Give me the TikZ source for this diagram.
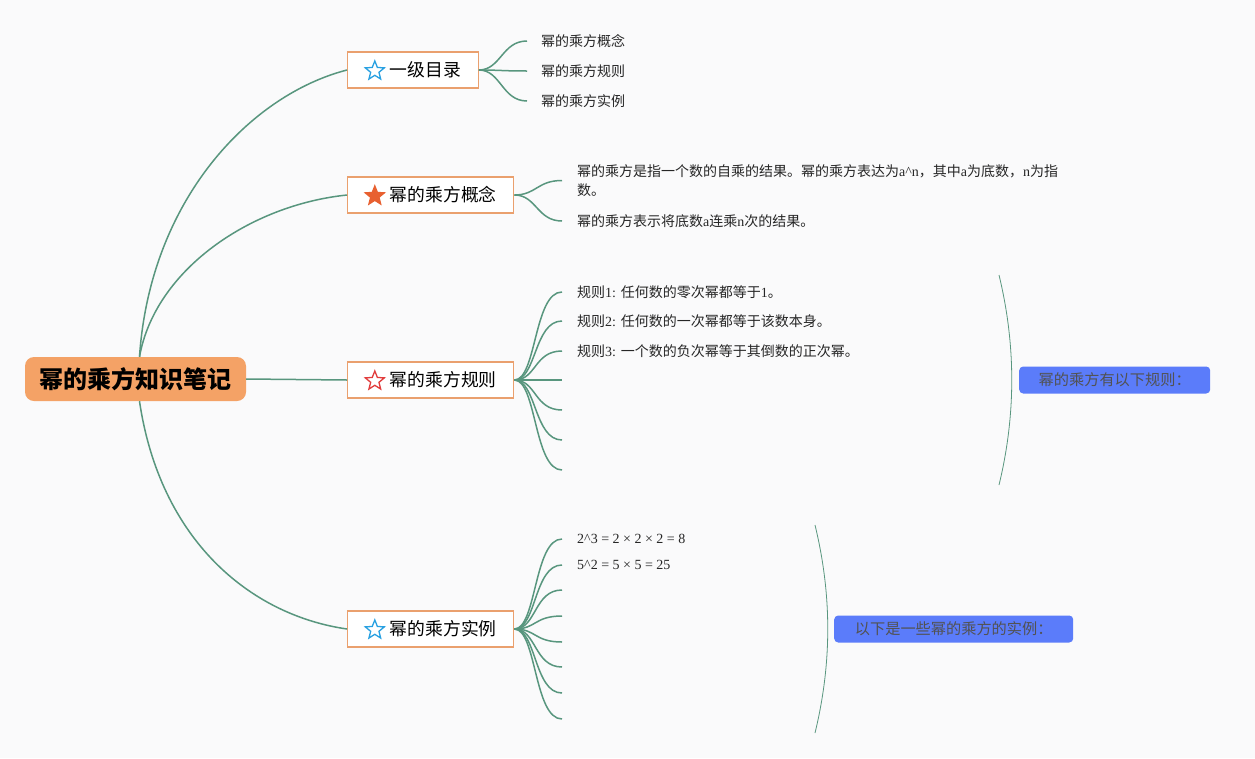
\documentclass[tikz,border=0pt]{standalone}
\usepackage{fontspec}
\setmainfont{Liberation Serif}
\newfontfamily\cjk{Noto Sans CJK SC}
\usepackage{tikz}
\usetikzlibrary{shapes.geometric}
\definecolor{twigc}{RGB}{88,150,126}
\definecolor{boxc}{RGB}{234,160,110}
\definecolor{rootc}{RGB}{244,162,102}
\definecolor{notec}{RGB}{91,124,250}
\definecolor{starblue}{RGB}{40,160,225}
\definecolor{starorange}{RGB}{232,96,48}
\definecolor{starred}{RGB}{225,60,60}
\definecolor{bgc}{RGB}{250,250,251}
\newcommand{\lat}[1]{{\rmfamily #1}}

\begin{document}
\begin{tikzpicture}[x=1pt,y=-1pt,
		twig/.style={draw=twigc, line width=1.5pt},
		root/.style={fill=rootc, rounded corners=9pt, minimum width=221pt, minimum height=44pt, font=\cjk\bfseries\fontsize{24}{26}\selectfont},
		branch/.style={draw=boxc, line width=1.3pt, fill=white, minimum height=36pt, inner xsep=17pt, anchor=west, font=\cjk\fontsize{17.8}{20}\selectfont},
		leaf/.style={anchor=west, inner xsep=15pt, inner ysep=0pt, align=left, text=black!85, font=\cjk\fontsize{14}{19}\selectfont},
		starmark/.style={star, star points=5, star point ratio=2.3, minimum size=20pt, inner sep=0pt, line width=1.3pt, anchor=center},
		note/.style={fill=notec, rounded corners=4pt, minimum width=191pt, minimum height=27pt, anchor=west, text=black!68, font=\cjk\fontsize{15.2}{18}\selectfont}]
			\fill[bgc] (0,0) rectangle (1255,758);
			\useasboundingbox (0,0) rectangle (1255,758);
			% root and branches
			\node[root] (root) at (135.5,379) {幂的乘方知识笔记};
			\node[branch] (b1) at (347,70) {\tikz[baseline=-0.6ex]\node[starmark,draw=starblue]{};\hspace{5pt}一级目录};
			\node[branch] (b2) at (347,195) {\tikz[baseline=-0.6ex]\node[starmark,draw=starorange,fill=starorange]{};\hspace{5pt}幂的乘方概念};
			\node[branch] (b3) at (347,380) {\tikz[baseline=-0.6ex]\node[starmark,draw=starred]{};\hspace{5pt}幂的乘方规则};
			\node[branch] (b4) at (347,629) {\tikz[baseline=-0.6ex]\node[starmark,draw=starblue]{};\hspace{5pt}幂的乘方实例};
			\draw[twig] ([xshift=4pt]root.north) .. controls (150,200) and (250,95) .. (b1.west);
			\draw[twig] ([xshift=4pt]root.north) .. controls (155,270) and (250,205) .. (b2.west);
			\draw[twig] (root.east) -- (b3.west);
			\draw[twig] ([xshift=4pt]root.south) .. controls (160,540) and (250,615) .. (b4.west);
			% leaves of b1
			\node[leaf, inner xsep=14pt] (t11) at (527,41) {幂的乘方概念};
			\node[leaf, inner xsep=14pt] (t12) at (527,71) {幂的乘方规则};
			\node[leaf, inner xsep=14pt] (t13) at (527,101) {幂的乘方实例};
			\foreach \t in {t11,t12,t13}
				\draw[twig] (b1.east) .. controls +(22,0) and +(-25,0) .. (\t.west);
			% leaves of b2
			\node[leaf] (t21) at (562,180.5) {幂的乘方是指一个数的自乘的结果。幂的乘方表达为\lat{a\textasciicircum n}，其中\lat{a}为底数，\lat{n}为指\\数。};
			\node[leaf] (t22) at (562,221) {幂的乘方表示将底数\lat{a}连乘\lat{n}次的结果。};
			\foreach \t in {t21,t22}
				\draw[twig] (b2.east) .. controls +(22,0) and +(-25,0) .. (\t.west);
			% leaves of b3
			\node[leaf] (t31) at (562,292) {规则\lat{1: }任何数的零次幂都等于\lat{1}。};
			\node[leaf] (t32) at (562,321) {规则\lat{2: }任何数的一次幂都等于该数本身。};
			\node[leaf] (t33) at (562,351) {规则\lat{3: }一个数的负次幂等于其倒数的正次幂。};
			\foreach \t/\y in {t34/380,t35/410,t36/440,t37/470}
				\coordinate (\t) at (562,\y);
			\foreach \t in {t31,t32,t33,t34,t35,t36,t37}
				\draw[twig] (b3.east) .. controls +(22,0) and +(-28,0) .. (\t.west);
			\draw[twigc, line width=0.8pt] (999,275) .. controls (1016,345) and (1016,415) .. (999,485);
			\node[note] (n3) at (1019,380) {幂的乘方有以下规则：};
			% leaves of b4
			\node[leaf] (t41) at (562,539) {\lat{2\textasciicircum 3 = 2 × 2 × 2 = 8}};
			\node[leaf] (t42) at (562,565) {\lat{5\textasciicircum 2 = 5 × 5 = 25}};
			\foreach \t/\y in {t43/590,t44/616,t45/642,t46/667,t47/693,t48/719}
				\coordinate (\t) at (562,\y);
			\foreach \t in {t41,t42,t43,t44,t45,t46,t47,t48}
				\draw[twig] (b4.east) .. controls +(22,0) and +(-28,0) .. (\t.west);
			\draw[twigc, line width=0.8pt] (815,525) .. controls (832,595) and (832,663) .. (815,733);
			\node[note, minimum width=239pt] (n4) at (834,629) {以下是一些幂的乘方的实例：};
		\end{tikzpicture}
\end{document}
